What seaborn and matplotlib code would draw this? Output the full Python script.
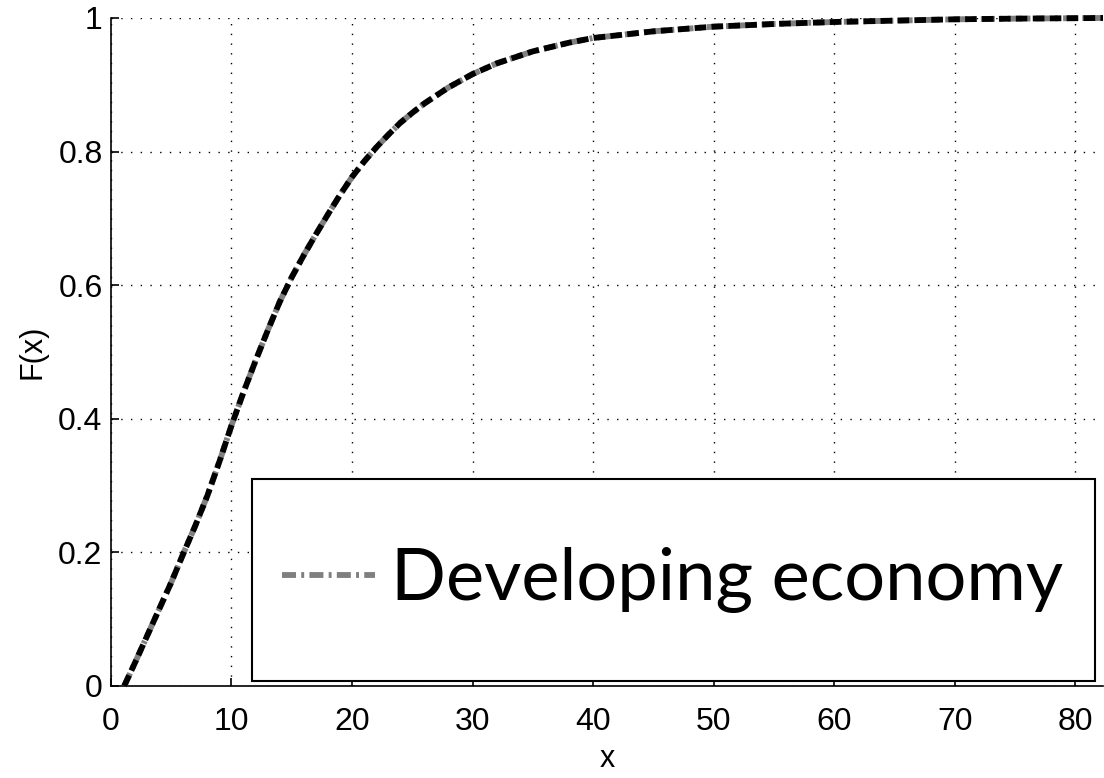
import matplotlib
matplotlib.use("Agg")
import matplotlib.pyplot as plt
from matplotlib.patches import Rectangle
import seaborn as sns
import pandas as pd

# Empirical CDF of the developing-economy sample
x_vals = [1.1, 2, 3, 4, 5, 6, 7, 8, 9, 10, 11, 12, 13, 14, 15, 16, 17, 18,
          19, 20, 21, 22, 23, 24, 25, 26, 28, 30, 32, 35, 38, 40, 45, 50,
          55, 60, 65, 70, 75, 82.3]
f_vals = [0.0, 0.035, 0.075, 0.115, 0.155, 0.198, 0.24, 0.285, 0.336, 0.39,
          0.44, 0.487, 0.532, 0.575, 0.612, 0.645, 0.676, 0.706, 0.735,
          0.762, 0.785, 0.806, 0.825, 0.843, 0.858, 0.872, 0.896, 0.916,
          0.932, 0.950, 0.963, 0.970, 0.980, 0.987, 0.991, 0.994, 0.996,
          0.998, 0.999, 1.0]
series_label = "Developing economy"
x_ticks = [0, 10, 20, 30, 40, 50, 60, 70, 80]
y_ticks = [0, 0.2, 0.4, 0.6, 0.8, 1]
y_tick_labels = ["0", "0.2", "0.4", "0.6", "0.8", "1"]

df = pd.DataFrame({"x": x_vals, "F": f_vals})

sns.set_theme(style="white")
plt.rcParams["font.family"] = ["Liberation Sans", "DejaVu Sans"]
plt.rcParams["text.color"] = "black"
plt.rcParams["axes.labelcolor"] = "black"

fig = plt.figure(figsize=(11.04, 7.78), dpi=100)
ax = fig.add_axes([0.1005, 0.1183, 0.8986, 0.8586])

# grey dash-dot series (legend entry) with a heavy black dashed trace on top
sns.lineplot(data=df, x="x", y="F", ax=ax, color="#7f7f7f", linewidth=4.2,
             linestyle=(0, (2.4, 0.9, 0.5, 0.9)), label=series_label,
             clip_on=False, zorder=3)
sns.lineplot(data=df, x="x", y="F", ax=ax, color="black", linewidth=4.2,
             linestyle=(0, (2.0, 0.9)), legend=False, clip_on=False, zorder=4)

ax.set_xlim(0, 82.3)
ax.set_ylim(0, 1)
ax.set_xticks(x_ticks)
ax.set_xticklabels([str(t) for t in x_ticks])
ax.set_yticks(y_ticks)
ax.set_yticklabels(y_tick_labels)

ax.grid(True, color="black", linestyle=(0, (1, 6)), linewidth=1.0)
for side in ("top", "right"):
    ax.spines[side].set_visible(False)
for side in ("left", "bottom"):
    ax.spines[side].set_color("black")
    ax.spines[side].set_linewidth(1.2)

ax.tick_params(axis="both", direction="in", length=6, width=1.2,
               colors="black", labelsize=23, left=True, bottom=True)
ax.tick_params(axis="x", pad=15)
ax.tick_params(axis="y", pad=6)

ax.set_xlabel("x", fontsize=22, labelpad=5)
ax.set_ylabel("F(x)", fontsize=22, labelpad=8)

# framed legend box in the lower right
box = Rectangle((0.1421, 0.0075), 0.85, 0.302, transform=ax.transAxes,
                facecolor="white", edgecolor="black", linewidth=1.5, zorder=6)
ax.add_patch(box)
leg = ax.legend(loc="center left", bbox_to_anchor=(0.172, 0.158),
                frameon=False, handlelength=1.3,
                handletextpad=0.22, borderpad=0, borderaxespad=0,
                prop={"family": "Lato", "size": 52})
for txt in leg.get_texts():
    txt.set_color("black")
leg.set_zorder(7)

fig.savefig("out.png", dpi=100, facecolor="white")
